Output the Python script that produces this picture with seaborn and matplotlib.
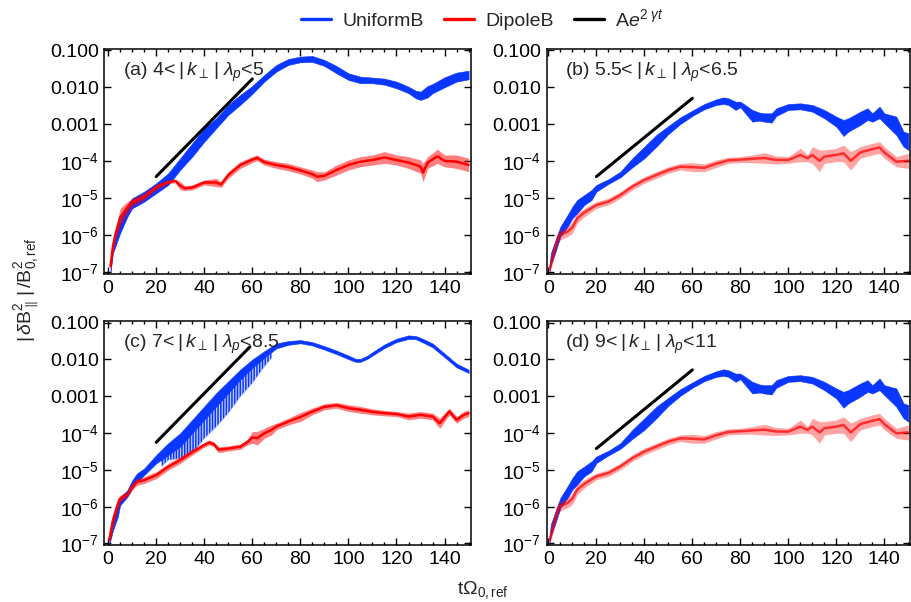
import numpy as np
import matplotlib
matplotlib.use("Agg")
import matplotlib.pyplot as plt
from matplotlib.lines import Line2D
from matplotlib.ticker import LogLocator, MultipleLocator, NullFormatter
import seaborn as sns

# ---------------------------------------------------------------- data
# each series is stored as an envelope (lower / upper value) of |dB_par|^2/B0^2
# panel (a): 4 < |k_perp| lambda_p < 5
a_uni_t = [1, 2, 3, 5, 8, 10, 15, 20, 25, 30, 35, 40, 45, 50, 55, 60, 65, 70, 75, 80,
           85, 90, 95, 100, 105, 110, 115, 120, 125, 128, 130, 133, 135, 140, 145, 150]
a_uni_lo = [1.0e-7, 3.3e-7, 5.0e-7, 1.15e-6, 3.2e-6, 5.4e-6, 8.2e-6, 1.38e-5, 2.32e-5, 5.9e-5,
            1.35e-4, 3.4e-4, 7.9e-4, 1.81e-3, 3.4e-3, 6.7e-3, 0.0144, 0.0268, 0.0406, 0.0479,
            0.0489, 0.0381, 0.0242, 0.0160, 0.0130, 0.0130, 0.0119, 0.0095, 0.0070, 0.0051,
            0.0046, 0.0054, 0.0070, 0.0101, 0.0144, 0.0166]
a_uni_hi = [1.77e-7, 6.8e-7, 1.15e-6, 2.6e-6, 6.7e-6, 1.01e-5, 1.53e-5, 2.57e-5, 4.8e-5, 1.22e-4,
            3.1e-4, 7.9e-4, 1.47e-3, 3.4e-3, 6.3e-3, 0.0110, 0.0218, 0.0406, 0.0589, 0.0681,
            0.0710, 0.0553, 0.0381, 0.0242, 0.0196, 0.0185, 0.0173, 0.0144, 0.0105, 0.0082,
            0.0077, 0.0110, 0.0124, 0.0188, 0.0252, 0.0285]
a_dip_t = [1, 2, 3, 5, 8, 10, 15, 20, 25, 28, 30, 32, 35, 40, 45, 47, 50, 55, 60, 62, 65,
           70, 75, 80, 85, 87, 90, 95, 100, 105, 110, 115, 120, 125, 130, 131, 133, 137, 140,
           145, 150]
a_dip_lo = [1.0e-7, 3.3e-7, 7.6e-7, 1.73e-6, 3.97e-6, 6.0e-6, 9.1e-6, 1.7e-5, 2.47e-5, 2.68e-5,
            1.7e-5, 1.63e-5, 1.7e-5, 2.32e-5, 2.09e-5, 2.0e-5, 3.5e-5, 6.5e-5, 9.3e-5, 1.05e-4,
            8.0e-5, 6.5e-5, 5.6e-5, 4.6e-5, 3.5e-5, 2.85e-5, 3.16e-5, 4.3e-5, 5.9e-5, 7.2e-5,
            8.0e-5, 8.9e-5, 8.0e-5, 6.5e-5, 4.8e-5, 2.85e-5, 6.5e-5, 8.9e-5, 7.2e-5, 6.5e-5,
            5.3e-5]
a_dip_hi = [2.18e-7, 7.6e-7, 1.41e-6, 5.4e-6, 8.2e-6, 1.01e-5, 1.38e-5, 2.42e-5, 3.16e-5, 3.3e-5,
            2.85e-5, 2.18e-5, 2.32e-5, 3.16e-5, 3.5e-5, 2.85e-5, 5.3e-5, 9.9e-5, 1.35e-4, 1.5e-4,
            1.15e-4, 9.9e-5, 8.9e-5, 7.2e-5, 5.9e-5, 5.3e-5, 5.3e-5, 8.0e-5, 1.1e-4, 1.35e-4,
            1.5e-4, 1.85e-4, 1.5e-4, 1.35e-4, 1.1e-4, 8.9e-5, 1.35e-4, 2.13e-4, 1.5e-4, 1.5e-4,
            1.22e-4]
a_fit_t = [20, 60]
a_fit_v = [3.9e-5, 0.017]

# panel (b): 5.5 < |k_perp| lambda_p < 6.5
b_uni_t = [0.5, 1, 3, 5, 8, 10, 12, 15, 18, 20, 25, 30, 35, 40, 45, 50, 55, 60, 65, 70, 73,
           75, 78, 80, 85, 88, 90, 93, 95, 100, 105, 110, 115, 120, 123, 125, 130, 133, 135,
           138, 140, 145, 148, 150]
b_uni_lo = [1.01e-7, 1.6e-7, 3.66e-7, 9.3e-7, 1.73e-6, 2.91e-6, 3.97e-6, 6.7e-6, 9.1e-6, 1.53e-5,
            2.47e-5, 3.73e-5, 6.95e-5, 1.22e-4, 2.52e-4, 5.5e-4, 1.03e-3, 1.70e-3, 2.57e-3,
            3.37e-3, 3.58e-3, 3.37e-3, 2.47e-3, 2.91e-3, 1.19e-3, 1.27e-3, 1.19e-3, 1.12e-3,
            1.70e-3, 2.47e-3, 2.57e-3, 2.22e-3, 1.47e-3, 8.7e-4, 4.89e-4, 6.4e-4, 9.7e-4,
            1.32e-3, 1.19e-3, 1.47e-3, 1.08e-3, 5.2e-4, 2.52e-4, 2.05e-4]
b_uni_hi = [1.44e-7, 3.3e-7, 7.6e-7, 1.73e-6, 3.58e-6, 6.0e-6, 9.1e-6, 1.24e-5, 1.70e-5, 2.32e-5,
            3.3e-5, 5.3e-5, 1.22e-4, 2.52e-4, 5.2e-4, 9.1e-4, 1.56e-3, 2.37e-3, 3.58e-3,
            4.79e-3, 5.4e-3, 5.1e-3, 4.14e-3, 4.14e-3, 2.47e-3, 2.09e-3, 2.0e-3, 2.0e-3,
            2.74e-3, 3.58e-3, 3.73e-3, 3.37e-3, 2.47e-3, 1.63e-3, 1.32e-3, 1.47e-3, 2.22e-3,
            2.74e-3, 2.0e-3, 3.03e-3, 2.0e-3, 1.63e-3, 6.4e-4, 5.8e-4]
b_dip_t = [0.5, 2, 4, 5, 8, 10, 12, 15, 20, 25, 30, 35, 40, 45, 50, 55, 60, 65, 70, 75, 80,
           85, 90, 95, 100, 105, 108, 110, 113, 115, 120, 123, 126, 130, 135, 138, 140, 145, 150]
b_dip_lo = [1.01e-7, 1.96e-7, 6.1e-7, 7.6e-7, 9.3e-7, 1.15e-6, 2.13e-6, 3.23e-6, 5.4e-6, 6.7e-6,
            1.01e-5, 1.70e-5, 2.57e-5, 3.5e-5, 4.8e-5, 5.9e-5, 5.3e-5, 5.3e-5, 6.95e-5, 8.9e-5,
            9.3e-5, 9.3e-5, 8.9e-5, 8.6e-5, 8.9e-5, 9.9e-5, 9.9e-5, 8.9e-5, 5.3e-5, 8.9e-5,
            9.9e-5, 9.9e-5, 5.9e-5, 1.22e-4, 1.50e-4, 1.66e-4, 1.22e-4, 7.2e-5, 6.5e-5]
b_dip_hi = [1.44e-7, 4.5e-7, 1.27e-6, 1.41e-6, 1.73e-6, 2.37e-6, 3.97e-6, 5.4e-6, 8.2e-6, 1.01e-5,
            1.53e-5, 2.57e-5, 3.89e-5, 5.3e-5, 7.2e-5, 8.9e-5, 9.3e-5, 8.6e-5, 1.10e-4, 1.30e-4,
            1.35e-4, 1.50e-4, 1.73e-4, 1.41e-4, 1.35e-4, 2.27e-4, 1.50e-4, 2.52e-4, 2.05e-4,
            2.05e-4, 2.27e-4, 2.79e-4, 1.85e-4, 2.52e-4, 3.1e-4, 3.44e-4, 2.52e-4, 1.35e-4,
            1.66e-4]
b_fit_t = [20, 60]
b_fit_v = [3.9e-5, 5.1e-3]

# panel (c): 7 < |k_perp| lambda_p < 8.5
c_uni_t = [0.5, 2, 4, 5, 8, 10, 12, 15, 20, 25, 30, 35, 40, 45, 50, 55, 60, 65, 70, 75, 80,
           85, 90, 95, 100, 103, 105, 108, 110, 115, 120, 125, 128, 130, 135, 140, 145, 150]
c_uni_lo = [9.4e-8, 2.25e-7, 5.2e-7, 1.09e-6, 1.84e-6, 3.1e-6, 4.72e-6, 7.2e-6, 1.50e-5, 2.53e-5,
            4.27e-5, 9.9e-5, 2.29e-4, 5.3e-4, 1.22e-3, 2.83e-3, 5.9e-3, 0.0111, 0.0200, 0.0250,
            0.0275, 0.0240, 0.0185, 0.0140, 0.0102, 8.6e-3, 8.6e-3, 0.0105, 0.0128, 0.0205,
            0.0295, 0.0360, 0.0355, 0.0310, 0.0215, 0.0115, 6.1e-3, 4.3e-3]
c_uni_hi = [1.34e-7, 5.2e-7, 1.21e-6, 1.84e-6, 2.79e-6, 5.2e-6, 7.97e-6, 1.09e-5, 2.53e-5, 5.3e-5,
            9.9e-5, 2.29e-4, 5.3e-4, 1.22e-3, 2.55e-3, 5.3e-3, 9.96e-3, 0.0168, 0.0272, 0.0316,
            0.0336, 0.0296, 0.0230, 0.0175, 0.0128, 0.0104, 0.0104, 0.0128, 0.0158, 0.0256,
            0.0366, 0.0451, 0.0432, 0.0389, 0.0272, 0.0145, 7.7e-3, 5.3e-3]
# deep downward oscillation minima of the UniformB signal during linear growth
c_osc_t = [22, 25, 30, 35, 40, 45, 50, 55, 60, 65, 68]
c_osc_lo = [1.21e-5, 1.85e-5, 2.05e-5, 2.8e-5, 7.2e-5, 1.5e-4, 3.5e-4, 9.9e-4, 2.3e-3, 6.5e-3,
            0.0110]
c_osc_hi = [1.85e-5, 2.53e-5, 4.27e-5, 9.9e-5, 2.29e-4, 5.3e-4, 1.22e-3, 2.83e-3, 5.9e-3, 0.0111,
            0.0151]
c_dip_t = [0.5, 2, 4, 5, 8, 10, 12, 15, 20, 25, 30, 35, 40, 42, 44, 46, 50, 55, 58, 60, 62,
           65, 68, 70, 75, 80, 85, 90, 95, 100, 105, 110, 115, 120, 125, 130, 135, 138, 142,
           145, 148, 150]
c_dip_lo = [9.75e-8, 2.78e-7, 7.9e-7, 1.34e-6, 1.84e-6, 2.79e-6, 3.83e-6, 4.25e-6, 5.8e-6, 9.8e-6,
            1.50e-5, 2.53e-5, 4.09e-5, 4.74e-5, 4.27e-5, 2.92e-5, 3.25e-5, 3.61e-5, 4.74e-5,
            5.3e-5, 4.74e-5, 7.2e-5, 8.9e-5, 1.22e-4, 1.67e-4, 2.06e-4, 3.13e-4, 4.29e-4,
            4.76e-4, 3.86e-4, 3.48e-4, 3.13e-4, 2.94e-4, 2.82e-4, 2.29e-4, 2.54e-4, 2.29e-4,
            1.35e-4, 3.13e-4, 1.85e-4, 2.54e-4, 2.82e-4]
c_dip_hi = [1.65e-7, 6.4e-7, 1.66e-6, 2.04e-6, 2.52e-6, 4.25e-6, 5.8e-6, 6.5e-6, 8.9e-6, 1.50e-5,
            2.28e-5, 3.68e-5, 5.5e-5, 6.5e-5, 5.8e-5, 4.27e-5, 4.45e-5, 5.05e-5, 6.8e-5, 1.10e-4,
            1.10e-4, 1.35e-4, 1.67e-4, 1.85e-4, 2.54e-4, 3.62e-4, 4.76e-4, 6.25e-4, 6.8e-4,
            5.9e-4, 5.3e-4, 4.56e-4, 4.11e-4, 3.86e-4, 3.48e-4, 3.86e-4, 3.48e-4, 2.54e-4,
            4.76e-4, 2.82e-4, 3.86e-4, 4.29e-4]
c_fit_t = [20, 59]
c_fit_v = [5.6e-5, 0.022]

# panel (d): 9 < |k_perp| lambda_p < 11 (same time series as panel (b))
d_uni_t, d_uni_lo, d_uni_hi = b_uni_t, b_uni_lo, b_uni_hi
d_dip_t, d_dip_lo, d_dip_hi = b_dip_t, b_dip_lo, b_dip_hi
d_fit_t = [20, 60]
d_fit_v = [3.8e-5, 5.2e-3]

panel_labels = [r"(a) 4<$\;|\,k_{\perp}\,|\;\lambda_p$<5",
                r"(b) 5.5<$\;|\,k_{\perp}\,|\;\lambda_p$<6.5",
                r"(c) 7<$\;|\,k_{\perp}\,|\;\lambda_p$<8.5",
                r"(d) 9<$\;|\,k_{\perp}\,|\;\lambda_p$<11"]
legend_labels = ["UniformB", "DipoleB", r"A$\mathit{e}^{2\;\gamma t}$"]
ytick_vals = [1e-7, 1e-6, 1e-5, 1e-4, 1e-3, 1e-2, 1e-1]
ytick_labels = [r"$10^{-7}$", r"$10^{-6}$", r"$10^{-5}$", r"$10^{-4}$", "0.001", "0.010", "0.100"]
xtick_vals = [0, 20, 40, 60, 80, 100, 120, 140]

# ---------------------------------------------------------------- style
sns.set_theme(style="ticks")
plt.rcParams["font.family"] = ["Liberation Sans", "DejaVu Sans"]
plt.rcParams["mathtext.fontset"] = "custom"
plt.rcParams["mathtext.rm"] = "Liberation Sans"
plt.rcParams["mathtext.it"] = "Liberation Sans:italic"
plt.rcParams["mathtext.bf"] = "Liberation Sans:bold"
plt.rcParams["hatch.linewidth"] = 1.1

BLUE = "#0a37ff"
RED = "#ff0000"
FS = 14

fig = plt.figure(figsize=(9.12, 6.02), dpi=100)
W, H = 912.0, 602.0
boxes = {  # left, top, right, bottom in pixels
    "a": (104.5, 48.5, 471.0, 274.0),
    "b": (546.7, 48.5, 910.0, 274.0),
    "c": (104.5, 320.7, 471.0, 545.0),
    "d": (546.7, 320.7, 910.0, 545.0),
}
xlims = {"a": (-1.5, 151.0), "b": (-0.7, 150.7), "c": (-1.5, 151.0), "d": (-0.7, 150.7)}

series = {
    "a": (a_uni_t, a_uni_lo, a_uni_hi, a_dip_t, a_dip_lo, a_dip_hi, a_fit_t, a_fit_v, 1.0),
    "b": (b_uni_t, b_uni_lo, b_uni_hi, b_dip_t, b_dip_lo, b_dip_hi, b_fit_t, b_fit_v, 0.72),
    "c": (c_uni_t, c_uni_lo, c_uni_hi, c_dip_t, c_dip_lo, c_dip_hi, c_fit_t, c_fit_v, 1.0),
    "d": (d_uni_t, d_uni_lo, d_uni_hi, d_dip_t, d_dip_lo, d_dip_hi, d_fit_t, d_fit_v, 0.72),
}

for i, key in enumerate("abcd"):
    l, t, r, b = boxes[key]
    ax = fig.add_axes([l / W, 1 - b / H, (r - l) / W, (b - t) / H])
    ax.set_yscale("log")
    ut, ulo, uhi, dt, dlo, dhi, ft, fv, ralpha = series[key]

    if key == "c":
        # oscillation troughs: light fill plus dense vertical strokes
        ax.fill_between(c_osc_t, c_osc_lo, c_osc_hi, color=BLUE, alpha=0.25, linewidth=0)
        ax.fill_between(c_osc_t, c_osc_lo, c_osc_hi, facecolor="none", edgecolor=BLUE,
                        hatch="||||||", linewidth=0)
    ax.fill_between(ut, ulo, uhi, color=BLUE, linewidth=0.4, zorder=2)

    # DipoleB: noise envelope with the running (geometric-mean) trace on top
    ax.fill_between(dt, dlo, dhi, color=RED, alpha=0.5 * ralpha, linewidth=0, zorder=3)
    dip_mid = np.sqrt(np.asarray(dlo) * np.asarray(dhi))
    sns.lineplot(x=dt, y=dip_mid, ax=ax, color=RED, alpha=ralpha, linewidth=1.8, zorder=3)

    sns.lineplot(x=ft, y=fv, ax=ax, color="black", linewidth=2.2, zorder=4)

    ax.set_xlim(*xlims[key])
    ax.set_ylim(9.1e-8, 0.113)
    ax.set_yticks(ytick_vals, ytick_labels)
    ax.yaxis.set_minor_locator(LogLocator(base=10, subs=np.arange(2, 10)))
    ax.yaxis.set_minor_formatter(NullFormatter())
    ax.set_xticks(xtick_vals, [str(v) for v in xtick_vals])
    ax.xaxis.set_minor_locator(MultipleLocator(5))
    ax.tick_params(which="both", direction="in", top=True, right=True, labelsize=FS,
                   colors="black", width=1.0, pad=4)
    ax.tick_params(which="major", length=5)
    ax.tick_params(which="minor", length=2.5)
    for s in ax.spines.values():
        s.set_linewidth(1.1)
        s.set_color("black")
    ax.set_xlabel("")
    ax.set_ylabel("")
    ax.text(0.05, 0.895, panel_labels[i], transform=ax.transAxes, fontsize=FS,
            ha="left", va="center", zorder=5)

fig.text(27 / W, 1 - 290 / H, r"$|\,\delta$B$^2_{\parallel}\,|\,$/B$^2_{0,\mathrm{ref}}$",
         rotation=90, fontsize=FS, ha="center", va="center")
fig.text(483 / W, 1 - 590 / H, r"t$\Omega_{0,\mathrm{ref}}$", fontsize=FS,
         ha="center", va="center")

handles = [Line2D([], [], color=BLUE, lw=2.4),
           Line2D([], [], color=RED, lw=2.4),
           Line2D([], [], color="black", lw=2.4)]
fig.legend(handles, legend_labels, loc="center", bbox_to_anchor=(482.5 / W, 1 - 19 / H),
           ncol=3, frameon=False, fontsize=FS, handlelength=1.55, handletextpad=0.6,
           columnspacing=1.0)

fig.savefig("out.png", dpi=100)
